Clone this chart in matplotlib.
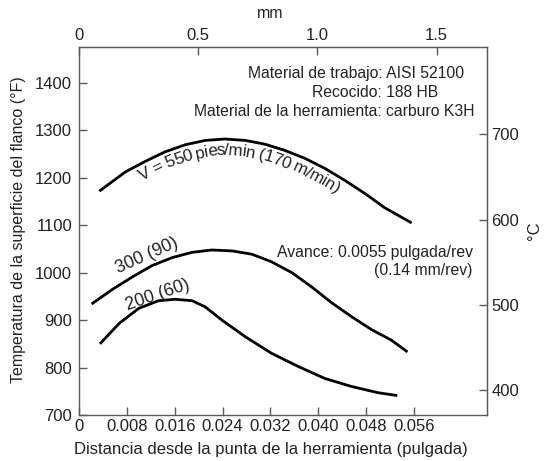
import numpy as np
import matplotlib
matplotlib.use("Agg")
import matplotlib.pyplot as plt

plt.rcParams['font.family'] = ['Liberation Sans', 'DejaVu Sans']

# distancia desde la punta de la herramienta (pulgada) / temperatura (°F)
x_550 = [0.0034, 0.0078, 0.0111, 0.0144, 0.0178, 0.0211, 0.0244, 0.0278, 0.0311,
         0.0344, 0.0378, 0.0411, 0.0444, 0.0478, 0.0511, 0.0556]
t_550 = [1172, 1213, 1235, 1255, 1270, 1279, 1282, 1279, 1271,
         1258, 1241, 1220, 1195, 1167, 1137, 1105]

x_300 = [0.0021, 0.0056, 0.0089, 0.0122, 0.0156, 0.0189, 0.0222, 0.0256, 0.0289,
         0.0322, 0.0356, 0.0389, 0.0422, 0.0456, 0.0489, 0.0522, 0.0549]
t_300 = [934, 965, 991, 1015, 1032, 1043, 1048, 1046, 1039,
         1023, 1000, 970, 937, 907, 880, 858, 833]

x_200 = [0.0035, 0.0067, 0.0100, 0.0133, 0.0161, 0.0189, 0.0211, 0.0239, 0.0278,
         0.0322, 0.0367, 0.0411, 0.0456, 0.0500, 0.0532]
t_200 = [850, 893, 925, 941, 944, 941, 928, 900, 865,
         830, 802, 777, 760, 747, 741]

x_ticks = [0, 0.008, 0.016, 0.024, 0.032, 0.040, 0.048, 0.056]
x_ticklabels = ["0", "0.008", "0.016", "0.024", "0.032", "0.040", "0.048", "0.056"]
y_ticks = [700, 800, 900, 1000, 1100, 1200, 1300, 1400]
mm_ticks = [0, 0.5, 1.0, 1.5]
mm_ticklabels = ["0", "0.5", "1.0", "1.5"]
c_ticks = [400, 500, 600, 700]

grey = "#5a5a5a"
txt = "#222222"
MM_PER_IN = 25.1  # escala superior tal como esta dibujada en la figura

fig = plt.figure(figsize=(5.47, 4.61), dpi=100)
ax = fig.add_axes([79/547, 1 - 415/461, 408/547, 368/461])
ax.set_xlim(0, 0.0682)
ax.set_ylim(700, 1476)

for xs, ts in [(x_550, t_550), (x_300, t_300), (x_200, t_200)]:
    ax.plot(xs, ts, color="black", lw=2.0, solid_capstyle="butt", solid_joinstyle="round")

ax.set_xticks(x_ticks)
ax.set_xticklabels(x_ticklabels)
ax.set_yticks(y_ticks)
for s in ax.spines.values():
    s.set_color(grey)
    s.set_linewidth(1.0)
ax.tick_params(direction="in", length=6, width=1, color=grey, labelsize=12,
               labelcolor=txt)
ax.tick_params(axis="x", pad=3)
ax.tick_params(axis="y", pad=5)

ax.set_xlabel("Distancia desde la punta de la herramienta (pulgada)", fontsize=12,
              color=txt)
ax.xaxis.set_label_coords(0.47, -0.074)
ax.set_ylabel("Temperatura de la superficie del flanco (°F)", fontsize=11.5, color=txt)
ax.yaxis.set_label_coords(-0.131, 0.505)

top = ax.secondary_xaxis("top", functions=(lambda x: x * MM_PER_IN, lambda m: m / MM_PER_IN))
top.set_xticks(mm_ticks)
top.set_xticklabels(mm_ticklabels)
top.tick_params(direction="in", length=6, width=1, color=grey, labelsize=12,
                labelcolor=txt, pad=3)
top.spines["top"].set_color(grey)
fig.text(270/547, 1 - 13/461, "mm", ha="center", va="center", fontsize=11.5, color=txt)

right = ax.secondary_yaxis("right", functions=(lambda f: (f - 32) / 1.8, lambda c: c * 1.8 + 32))
right.set_yticks(c_ticks)
right.tick_params(direction="in", length=6, width=1, color=grey, labelsize=12,
                  labelcolor=txt, pad=3)
right.spines["right"].set_color(grey)
right.set_ylabel("°C", fontsize=12, color=txt, labelpad=6)

ax.text(0.0644, 1420, "Material de trabajo: AISI 52100", ha="right", va="center",
        fontsize=11.3, color=txt)
ax.text(0.0600, 1381, "Recocido: 188 HB", ha="right", va="center", fontsize=11.3, color=txt)
ax.text(0.0661, 1341, "Material de la herramienta: carburo K3H", ha="right", va="center",
        fontsize=11.3, color=txt)
ax.text(0.0658, 1042, "Avance: 0.0055 pulgada/rev", ha="right", va="center",
        fontsize=11.3, color=txt)
ax.text(0.0658, 1005, "(0.14 mm/rev)", ha="right", va="center", fontsize=11.3, color=txt)

ax.text(0.0113, 1037, "300 (90)", rotation=24, rotation_mode="anchor", ha="center",
        va="center", fontsize=12.8, color=txt)
ax.text(0.0131, 953, "200 (60)", rotation=19, rotation_mode="anchor", ha="center",
        va="center", fontsize=12.8, color=txt)


def curved_label(ax, xs, ys, s, x_start, offset, size):
    # letters placed one by one along the curve, shifted by offset px on the normal
    fig = ax.figure
    fig.canvas.draw()
    r = fig.canvas.get_renderer()
    fp = matplotlib.font_manager.FontProperties(family=plt.rcParams['font.family'], size=size)
    pts = ax.transData.transform(np.column_stack([xs, ys]))
    seg = np.hypot(*np.diff(pts, axis=0).T)
    arc = np.concatenate([[0], np.cumsum(seg)])
    x0 = ax.transData.transform((x_start, ys[0]))[0]
    a0 = np.interp(x0, pts[:, 0], arc)
    wbar = r.get_text_width_height_descent("|", fp, ismath=False)[0]

    def pre(n):
        return r.get_text_width_height_descent(s[:n] + "|", fp, ismath=False)[0] - wbar

    def at(c):
        return np.array([np.interp(c, arc, pts[:, 0]), np.interp(c, arc, pts[:, 1])])

    for i, ch in enumerate(s):
        if ch == " ":
            continue
        c = a0 + 0.5 * (pre(i) + pre(i + 1))
        d = at(c + 10) - at(c - 10)
        ang = np.arctan2(d[1], d[0])
        nrm = np.array([-np.sin(ang), np.cos(ang)])
        q = ax.transData.inverted().transform(at(c) + offset * nrm)
        ax.text(q[0], q[1], ch, rotation=np.degrees(ang), rotation_mode="anchor",
                ha="center", va="baseline", fontproperties=fp, color=txt)


curved_label(ax, x_550, t_550, "V = 550 pies/min (170 m/min)", 0.0092, -16, 12.3)

fig.savefig("out.png", dpi=100)
